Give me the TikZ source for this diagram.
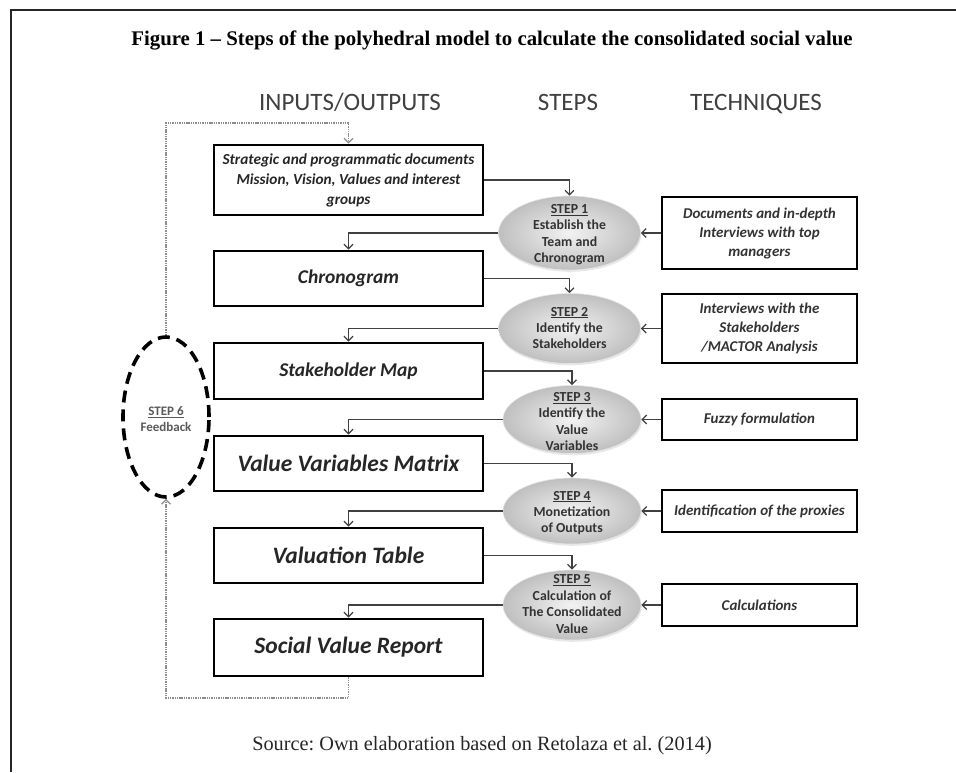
\documentclass[tikz,border=0pt]{standalone}
\usepackage{fontspec}
\setmainfont{Liberation Serif}
\newfontfamily\carl{Carlito}
\usetikzlibrary{arrows.meta,shapes.geometric,shadows}
\frenchspacing
\begin{document}
\begin{tikzpicture}[x=1pt,y=-1pt,
  lbox/.style={draw=black, line width=2.8pt, minimum width=269pt, inner sep=0pt, align=center, font=\carl\bfseries\itshape, text=black!85},
  tbox/.style={draw=black, line width=2pt, minimum width=195pt, inner sep=0pt, align=center, font=\carl\bfseries\itshape\fontsize{15}{19}\selectfont, text=black!80},
  stepell/.style={ellipse, inner sep=0pt, minimum width=142pt, shade, inner color=black!5, outer color=black!25, draw=black!10, line width=0.6pt, drop shadow={opacity=0.18, shadow xshift=0.8pt, shadow yshift=-1.8pt}},
  steptext/.style={align=center, inner sep=0pt, font=\carl\bfseries\fontsize{13.8}{16.4}\selectfont, text=black!80},
  arr/.style={draw=black!75, line width=1.3pt, -{Straight Barb[length=4.5pt,width=9pt,line width=1.3pt]}},
  fbline/.style={draw=black!45, line width=1.6pt, dash pattern=on 1.4pt off 0.9pt},
  fbarr/.style={fbline, -{Straight Barb[length=4.5pt,width=9pt,line width=1.2pt]}},
  hdr/.style={font=\carl\fontsize{25}{30}\selectfont, text=black!75, inner sep=0pt, anchor=base}
]
\useasboundingbox (0,0) rectangle (956,772);
% frame
\draw[line width=1.2pt, black!85] (11,772) -- (11,10) -- (956,10);
% title and source
\node[inner sep=0pt, font=\bfseries\fontsize{20.8}{24}\selectfont] (title) at (492,40) {Figure 1 -- Steps of the polyhedral model to calculate the consolidated social value};
\node[inner sep=0pt, font=\fontsize{20.3}{24}\selectfont, text=black!85] (source) at (482,746) {Source: Own elaboration based on Retolaza et al. (2014)};
% headers
\node[hdr] (h1) at (350,110) {INPUTS/OUTPUTS};
\node[hdr] (h2) at (568,110) {STEPS};
\node[hdr] (h3) at (756,110) {TECHNIQUES};
% left boxes
\node[lbox, minimum height=70pt, font=\carl\bfseries\itshape\fontsize{15.3}{20}\selectfont] (B1) at (348.5,180) {Strategic and programmatic documents\\Mission, Vision, Values and interest\\groups};
\node[lbox, minimum height=55pt, font=\carl\bfseries\itshape\fontsize{19.5}{23}\selectfont] (B2) at (348.5,278.5) {Chronogram};
\node[lbox, minimum height=56pt, font=\carl\bfseries\itshape\fontsize{19.5}{23}\selectfont] (B3) at (348.5,371) {Stakeholder Map};
\node[lbox, minimum height=55pt, font=\carl\bfseries\itshape\fontsize{23.5}{27}\selectfont] (B4) at (348.5,463.5) {Value Variables Matrix};
\node[lbox, minimum height=55pt, font=\carl\bfseries\itshape\fontsize{23.5}{27}\selectfont] (B5) at (348.5,555.5) {Valuation Table};
\node[lbox, minimum height=57pt, font=\carl\bfseries\itshape\fontsize{23.5}{27}\selectfont] (B6) at (348.5,647.5) {Social Value Report};
% technique boxes
\node[tbox, minimum height=72pt] (T1) at (759.5,233) {Documents and in-depth\\Interviews with top\\managers};
\node[tbox, minimum height=69pt] (T2) at (759.5,328.5) {Interviews with the\\Stakeholders\\/MACTOR Analysis};
\node[tbox, minimum height=41pt] (T3) at (759.5,419.5) {Fuzzy formulation};
\node[tbox, minimum height=42pt] (T4) at (759.5,511) {Identification of the proxies};
\node[tbox, minimum height=42pt] (T5) at (759.5,605) {Calculations};
% step ellipses
\node[stepell, minimum height=74pt] (E1) at (569.5,233) {};
\node[stepell, minimum height=70pt] (E2) at (569.5,328.5) {};
\node[stepell, minimum width=138pt, minimum height=68pt] (E3) at (572,419.5) {};
\node[stepell, minimum width=138pt, minimum height=66pt] (E4) at (572,511) {};
\node[stepell, minimum width=138pt, minimum height=70pt] (E5) at (572,605) {};
\node[steptext] (E1t) at (569.5,234.5) {\underline{STEP 1}\\Establish the\\Team and\\Chronogram};
\node[steptext] (E2t) at (569.5,328) {\underline{STEP 2}\\Identify the\\Stakeholders};
\node[steptext] (E3t) at (572,421.5) {\underline{STEP 3}\\Identify the\\Value\\Variables};
\node[steptext] (E4t) at (572,513) {\underline{STEP 4}\\Monetization\\of Outputs};
\node[steptext] (E5t) at (572,604) {\underline{STEP 5}\\Calculation of\\The Consolidated\\Value};
% feedback ellipse
\node[ellipse, draw=black, line width=3.6pt, dash pattern=on 12pt off 7pt, minimum width=86pt, minimum height=160pt, inner sep=0pt] (fb) at (166,417) {};
\node[align=center, inner sep=0pt, font=\carl\bfseries\fontsize{13}{16}\selectfont, text=black!65] (fbt) at (166,419) {\underline{STEP 6}\\Feedback};
% connectors: boxes -> steps
\draw[arr] (B1.east) -| (E1.north);
\draw[arr] (B2.east) -| (E2.north);
\draw[arr] (B3.east) -| (E3.north);
\draw[arr] (B4.east) -| (E4.north);
\draw[arr] (B5.east) -| (E5.north);
% steps -> boxes
\draw[arr] (E1.west) -| (B2.north);
\draw[arr] (E2.west) -| (B3.north);
\draw[arr] (E3.west) -| (B4.north);
\draw[arr] (E4.west) -| (B5.north);
\draw[arr] (E5.west) -| (B6.north);
% techniques -> steps
\draw[arr] (T1.west) -- (E1.east);
\draw[arr] (T2.west) -- (E2.east);
\draw[arr] (T3.west) -- (E3.east);
\draw[arr] (T4.west) -- (E4.east);
\draw[arr] (T5.west) -- (E5.east);
% feedback loop
\draw[fbarr] (fb.north) -- (fb.north |- 0,123) -| (B1.north);
\draw[fbarr] (B6.south) -- (B6.south |- 0,698) -| (fb.south);
\end{tikzpicture}
\end{document}
